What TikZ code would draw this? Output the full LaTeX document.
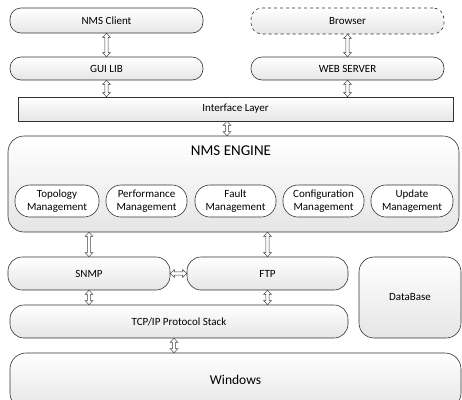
\documentclass[tikz,border=0pt]{standalone}
\usepackage{fontspec}
\setmainfont{Carlito}
\usetikzlibrary{calc}
\tikzset{
  box/.style={draw=black!80, line width=0.6pt, top color=white, bottom color=black!10,
    rounded corners=11pt, align=center, font=\fontsize{11}{13}\selectfont, inner sep=0pt},
  sqbox/.style={box, rounded corners=0pt},
  sub/.style={box, rounded corners=15pt, top color=white, bottom color=white, fill=white, font=\fontsize{11}{12.5}\selectfont},
  darrow/.style={draw=black!75, line width=0.5pt, fill=white, to path={
    -- ($(\tikztostart)!4pt!(\tikztotarget)!3.8pt!90:(\tikztotarget)$)
    -- ($(\tikztostart)!4pt!(\tikztotarget)!1.6pt!90:(\tikztotarget)$)
    -- ($(\tikztotarget)!4pt!(\tikztostart)!1.6pt!-90:(\tikztostart)$)
    -- ($(\tikztotarget)!4pt!(\tikztostart)!3.8pt!-90:(\tikztostart)$)
    -- (\tikztotarget)
    -- ($(\tikztotarget)!4pt!(\tikztostart)!3.8pt!90:(\tikztostart)$)
    -- ($(\tikztotarget)!4pt!(\tikztostart)!1.6pt!90:(\tikztostart)$)
    -- ($(\tikztostart)!4pt!(\tikztotarget)!1.6pt!-90:(\tikztotarget)$)
    -- ($(\tikztostart)!4pt!(\tikztotarget)!3.8pt!-90:(\tikztotarget)$)
    -- cycle}}
}
\begin{document}
\begin{tikzpicture}[x=1pt,y=-1pt]
\useasboundingbox (0,0) rectangle (462,399);
% top row
\node[box, minimum width=193pt, minimum height=25pt] (client) at (106.5,20.5) {NMS Client};
\node[box, dashed, minimum width=193pt, minimum height=26pt] (browser) at (347.5,21) {Browser};
\node[box, minimum width=193pt, minimum height=23pt] (gui) at (106.5,68.5) {GUI LIB};
\node[box, minimum width=193pt, minimum height=23pt] (web) at (347.5,68.5) {WEB SERVER};
\node[sqbox, minimum width=435pt, minimum height=24pt] (iface) at (235.5,109) {Interface Layer};
% engine
\node[box, rounded corners=16pt, minimum width=451pt, minimum height=96pt] (engine) at (233.5,184) {};
\node[font=\fontsize{15}{17}\selectfont, inner sep=0pt] (engtitle) at (231,151) {NMS ENGINE};
\node[sub, minimum width=84pt, minimum height=32pt] (topo) at (57,201) {Topology\\Management};
\node[sub, minimum width=81pt, minimum height=32pt] (perf) at (146.5,201) {Performance\\Management};
\node[sub, minimum width=81pt, minimum height=32pt] (fault) at (235.5,201) {Fault\\Management};
\node[sub, minimum width=81pt, minimum height=32pt] (conf) at (323.5,201) {Configuration\\Management};
\node[sub, minimum width=82pt, minimum height=32pt] (upd) at (412,201) {Update\\Management};
% lower
\node[box, rounded corners=14pt, minimum width=162pt, minimum height=33pt] (snmp) at (89,273.5) {SNMP};
\node[box, rounded corners=14pt, minimum width=161pt, minimum height=33pt] (ftp) at (267.5,273.5) {FTP};
\node[box, rounded corners=14pt, minimum width=338pt, minimum height=33pt] (tcp) at (179,321.5) {TCP/IP Protocol Stack};
\node[box, rounded corners=15pt, minimum width=102pt, minimum height=81pt] (db) at (410,297.5) {DataBase};
\node[box, rounded corners=16pt, minimum width=451pt, minimum height=56pt, font=\fontsize{13.5}{15}\selectfont] (win) at (235.5,381) {\raisebox{2pt}{Windows}};
% helper coordinates
\coordinate (ie) at (227,0);
\coordinate (tw) at (174,0);
% arrows
\draw[darrow] (client.south) to (gui.north);
\draw[darrow] (browser.south) to (web.north);
\draw[darrow] (gui.south) to (gui.south |- iface.north);
\draw[darrow] (web.south) to (web.south |- iface.north);
\draw[darrow] (iface.south -| ie) to (engine.north -| ie);
\draw[darrow] (snmp.north |- engine.south) to (snmp.north);
\draw[darrow] (ftp.north |- engine.south) to (ftp.north);
\draw[darrow] (snmp.east) to (ftp.west);
\draw[darrow] (snmp.south) to (snmp.south |- tcp.north);
\draw[darrow] (ftp.south) to (ftp.south |- tcp.north);
\draw[darrow] (tcp.south -| tw) to (win.north -| tw);
\end{tikzpicture}
\end{document}
